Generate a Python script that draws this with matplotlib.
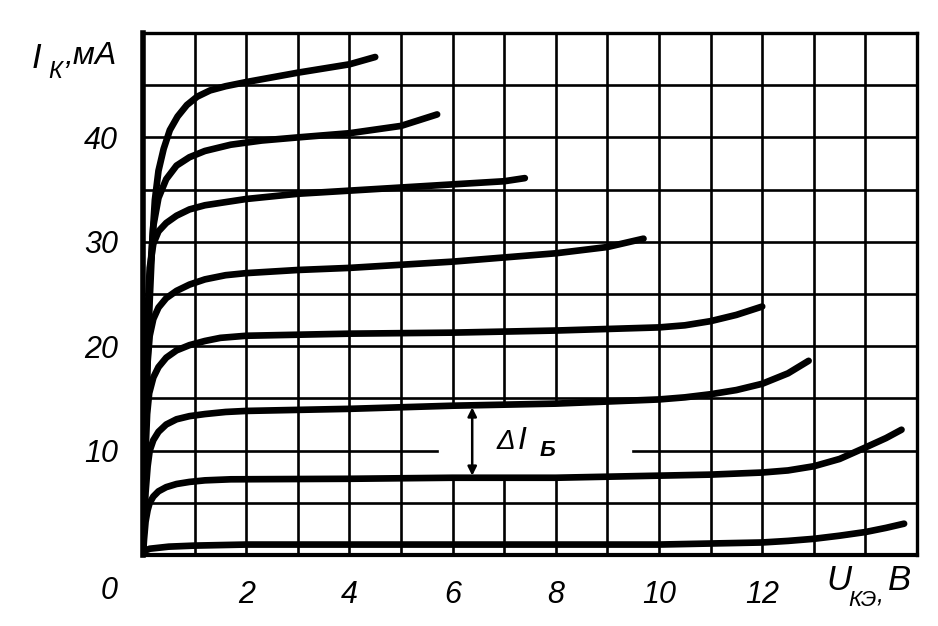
import numpy as np
import matplotlib
matplotlib.use("Agg")
import matplotlib.pyplot as plt

# ---- data ----
c1_x = [0, 0.03, 0.13, 0.5, 1, 2, 4, 6, 8, 10, 11, 12, 12.5, 13, 13.5, 14, 14.4, 14.75]
c1_y = [0, 0.4, 0.6, 0.8, 0.9, 1.0, 1.0, 1.0, 1.0, 1.0, 1.1, 1.2, 1.35, 1.55, 1.85, 2.2, 2.6, 3.0]

c2_x = [0, 0.02, 0.05, 0.09, 0.13, 0.2, 0.3, 0.45, 0.65, 0.9, 1.2, 1.7, 4, 6, 8, 10, 11, 12,
        12.5, 13, 13.5, 14, 14.4, 14.7]
c2_y = [0, 1.5, 3.2, 4.3, 5.0, 5.6, 6.1, 6.5, 6.8, 7.0, 7.15, 7.25, 7.3, 7.4, 7.4, 7.6, 7.7, 7.9,
        8.1, 8.5, 9.2, 10.3, 11.2, 12.0]

c3_x = [0, 0.02, 0.05, 0.09, 0.13, 0.2, 0.3, 0.45, 0.65, 0.9, 1.2, 1.6, 2, 4, 6, 8, 10, 10.5,
        11, 11.5, 12, 12.5, 12.9]
c3_y = [0, 3.0, 6.0, 8.5, 10.0, 11.0, 11.8, 12.5, 13.0, 13.3, 13.5, 13.7, 13.8, 14.0, 14.3, 14.5,
        14.9, 15.1, 15.4, 15.8, 16.4, 17.4, 18.6]

c4_x = [0, 0.02, 0.05, 0.08, 0.12, 0.2, 0.3, 0.45, 0.65, 0.9, 1.2, 1.5, 2, 4, 6, 8, 10, 10.5,
        11, 11.5, 12]
c4_y = [0, 5.0, 10.0, 13.5, 15.5, 17.0, 18.0, 18.9, 19.6, 20.1, 20.5, 20.8, 21.0, 21.2, 21.3,
        21.5, 21.8, 22.0, 22.4, 23.0, 23.8]

c5_x = [0, 0.02, 0.05, 0.09, 0.13, 0.2, 0.3, 0.45, 0.65, 0.9, 1.2, 1.6, 2, 3, 4, 5, 6, 7, 8,
        9, 9.7]
c5_y = [0, 7.0, 13.0, 18.5, 21.0, 22.6, 23.7, 24.6, 25.3, 25.9, 26.4, 26.8, 27.0, 27.3, 27.5,
        27.8, 28.1, 28.5, 28.9, 29.5, 30.3]

c6_x = [0, 0.02, 0.05, 0.09, 0.13, 0.2, 0.3, 0.45, 0.65, 0.9, 1.2, 1.6, 2, 3, 4, 5, 6, 7, 7.4]
c6_y = [0, 8.0, 16.0, 23.0, 27.5, 29.8, 31.0, 31.8, 32.5, 33.1, 33.5, 33.8, 34.1, 34.6, 34.9,
        35.2, 35.5, 35.8, 36.1]

c7_x = [0, 0.02, 0.05, 0.09, 0.13, 0.2, 0.3, 0.45, 0.65, 0.9, 1.2, 1.7, 2.3, 3, 4, 5, 5.7]
c7_y = [0, 6.0, 14.0, 21.0, 26.5, 31.5, 34.2, 36.0, 37.3, 38.1, 38.7, 39.3, 39.7, 40.0, 40.4,
        41.1, 42.2]

c8_x = [0, 0.02, 0.05, 0.09, 0.13, 0.18, 0.23, 0.3, 0.4, 0.52, 0.67, 0.85, 1.05, 1.3, 1.6, 2,
        3, 4, 4.5]
c8_y = [0, 6.0, 13.0, 19.0, 24.4, 30.0, 34.0, 36.8, 38.9, 40.7, 42.0, 43.1, 43.9, 44.5, 44.9,
        45.3, 46.2, 47.0, 47.7]

curves = [(c1_x, c1_y), (c2_x, c2_y), (c3_x, c3_y), (c4_x, c4_y),
          (c5_x, c5_y), (c6_x, c6_y), (c7_x, c7_y), (c8_x, c8_y)]

x_ticks = [2, 4, 6, 8, 10, 12]
x_tick_labels = ["2", "4", "6", "8", "10", "12"]
y_ticks = [10, 20, 30, 40]
y_tick_labels = ["10", "20", "30", "40"]

grid_x = list(range(1, 15))
grid_y = list(range(5, 50, 5))
gap_grid_x = [6, 7, 8]          # verticals interrupted by the ΔI label
gap_hline = (10, 5.7, 9.5)      # horizontal 10 mA line gap (y, from, to)

W, H = 938, 626
FONT = ["Liberation Sans Narrow", "Liberation Sans", "DejaVu Sans"]

fig = plt.figure(figsize=(W / 100, H / 100), dpi=100)
fig.patch.set_facecolor("white")
ax = fig.add_axes([143 / W, 1 - 555 / H, (917 - 143) / W, (555 - 33) / H])
ax.set_xlim(0, 15)
ax.set_ylim(0, 50)

grid_lw = 1.9
for gx in grid_x:
    if gx in gap_grid_x:
        y_lo = np.interp(gx, c2_x, c2_y)
        y_hi = np.interp(gx, c3_x, c3_y)
        ax.plot([gx, gx], [0, y_lo], color="black", lw=grid_lw, zorder=1)
        ax.plot([gx, gx], [y_hi, 50], color="black", lw=grid_lw, zorder=1)
    else:
        ax.plot([gx, gx], [0, 50], color="black", lw=grid_lw, zorder=1)
for gy in grid_y:
    if gy == gap_hline[0]:
        ax.plot([0, gap_hline[1]], [gy, gy], color="black", lw=grid_lw, zorder=1)
        ax.plot([gap_hline[2], 15], [gy, gy], color="black", lw=grid_lw, zorder=1)
    else:
        ax.plot([0, 15], [gy, gy], color="black", lw=grid_lw, zorder=1)

for cx, cy in curves:
    ax.plot(cx, cy, color="black", lw=4.8, solid_capstyle="round",
            solid_joinstyle="round", zorder=3)

for s in ax.spines.values():
    s.set_linewidth(2.4)
ax.spines["left"].set_linewidth(4.0)
ax.spines["bottom"].set_linewidth(3.0)

ax.set_xticks(x_ticks)
ax.set_xticklabels(x_tick_labels)
ax.set_yticks(y_ticks)
ax.set_yticklabels(y_tick_labels)
ax.tick_params(length=0, labelsize=22, pad=18)
for lab in ax.get_xticklabels() + ax.get_yticklabels():
    lab.set_family(FONT)
    lab.set_style("italic")

# ΔI arrow
ax.annotate("", xy=(6.38, np.interp(6.38, c2_x, c2_y) + 0.2),
            xytext=(6.38, np.interp(6.38, c3_x, c3_y) - 0.2),
            arrowprops=dict(arrowstyle="<|-|>", lw=1.8, color="black",
                            mutation_scale=13, shrinkA=0, shrinkB=0), zorder=4)

def ftext(px, py, s, size, **kw):
    fig.text(px / W, 1 - py / H, s, fontsize=size, family=FONT, style="italic",
             va="center", ha="left", **kw)

# ΔI_Б label
ftext(497, 442, "Δ", 20)
ftext(518, 441, "I", 23)
ftext(540, 451, "Б", 16, weight="bold")

# y axis title I_К, мА
ftext(32, 59, "I", 25)
ftext(48, 71, "К", 17)
ftext(64, 56, ",мА", 23)

# x axis title U_КЭ, В
ftext(826, 581, "U", 25)
ftext(848, 601, "КЭ", 16)
ftext(877, 596, ",", 18)
ftext(888, 581, "В", 25)

# corner zero
ftext(101, 591, "0", 22)

fig.savefig("out.png", dpi=100, facecolor="white")
